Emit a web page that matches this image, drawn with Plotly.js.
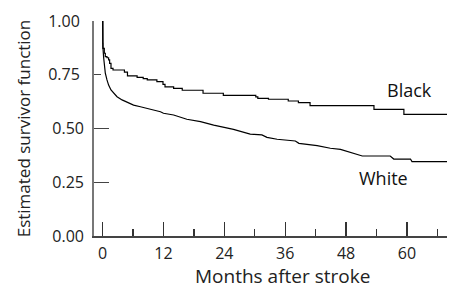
<!DOCTYPE html>
<html>
<head>
<meta charset="utf-8">
<script src="https://cdn.plot.ly/plotly-3.0.1.min.js"></script>
<style>html,body{margin:0;padding:0;background:#fff;}#chart{width:453px;height:288px;}</style>
</head>
<body>
<div id="chart"></div>
<script>
// Kaplan-Meier estimates
var blackMonths = [0, 0.05, 0.07, 0.33, 0.53, 0.86, 1.18, 1.38, 1.65, 2.05, 4.3, 4.9, 6.8, 8.0, 8.8, 10.7, 11.9, 12.3, 14.0, 15.7, 19.8, 23.8, 30.2, 30.6, 32.7, 36.6, 38.6, 40.9, 53.5, 59.4, 67.9];
var blackSurv   = [1.0, 0.896, 0.873, 0.85, 0.834, 0.829, 0.819, 0.803, 0.78, 0.772, 0.762, 0.745, 0.738, 0.732, 0.726, 0.718, 0.705, 0.694, 0.687, 0.678, 0.664, 0.654, 0.647, 0.640, 0.636, 0.628, 0.62, 0.606, 0.589, 0.566, 0.566];

var whiteMonths = [0, 0, 0.05, 0.2, 0.33, 0.53, 0.86, 1.18, 1.65, 2.17, 2.84, 3.83, 4.8, 6.1, 7.45, 9.4, 11.4, 12.0, 14.0, 16.6, 19.3, 21.9, 25.8, 29.1, 31.4, 32.4, 34.4, 38.0, 38.7, 42.3, 44.9, 46.9, 48.9, 51.2, 56.7, 57.4, 60.7, 61.0, 67.9];
var whiteSurv   = [1.0, 0.9, 0.88, 0.83, 0.795, 0.757, 0.726, 0.702, 0.679, 0.664, 0.648, 0.633, 0.622, 0.609, 0.601, 0.59, 0.578, 0.571, 0.563, 0.543, 0.532, 0.516, 0.496, 0.474, 0.470, 0.459, 0.450, 0.442, 0.431, 0.420, 0.408, 0.403, 0.387, 0.372, 0.372, 0.358, 0.358, 0.346, 0.346];

var seriesNames = ["Black", "White"];
var labelMonths = [60.6, 55.3];
var labelSurv = [0.677, 0.272];

var xTickVals = [0, 12, 24, 36, 48, 60];
var yTickLong = [0, 0.25, 0.5];
var yTickShort = [0.75, 1.0];
var yTickText = ["0.00", "0.25", "0.50", "0.75", "1.00"];
var xTitle = "Months after stroke";
var yTitle = "Estimated survivor function";

var FONT = "'Open Sans', Lato, sans-serif";

var traces = [
  {x: blackMonths, y: blackSurv, mode: "lines", line: {color: "#000", width: 1.2, shape: "hv"}, name: seriesNames[0], hoverinfo: "skip"},
  {x: whiteMonths, y: whiteSurv, mode: "lines", line: {color: "#000", width: 1.2, shape: "linear"}, name: seriesNames[1], hoverinfo: "skip"}
];

var annotations = seriesNames.map(function (n, i) {
  return {x: labelMonths[i], y: labelSurv[i], xref: "x", yref: "y", text: n, showarrow: false,
          font: {family: FONT, size: 18, color: "#111"}};
});
annotations.push({x: 0.533, y: -0.187, xref: "paper", yref: "paper", xanchor: "center", yanchor: "middle",
                  borderpad: 0, text: xTitle, showarrow: false, font: {family: FONT, size: 19, color: "#222"}});

var layout = {
  width: 453, height: 288,
  margin: {l: 94, r: 6, t: 21, b: 52},
  paper_bgcolor: "#fff", plot_bgcolor: "#fff",
  showlegend: false,
  font: {family: FONT, color: "#222", size: 16},
  xaxis: {
    range: [-1.7, 67.9],
    tickvals: xTickVals,
    ticktext: xTickVals.map(String),
    ticks: "inside", ticklen: 14, tickwidth: 1.2, tickcolor: "#333",
    minor: {dtick: 6, tick0: 0, ticks: "inside", ticklen: 7, tickwidth: 1.2, tickcolor: "#333"},
    showline: true, linecolor: "#444", linewidth: 1.5,
    showgrid: false, zeroline: false,
    ticklabelstandoff: 2,
    tickfont: {family: FONT, size: 16, color: "#222"}
  },
  yaxis: {
    range: [0, 1.0],
    tickvals: yTickShort,
    ticktext: yTickText.slice(3),
    ticks: "inside", ticklen: 7, tickwidth: 1.2, tickcolor: "#444",
    showline: true, linecolor: "#777", linewidth: 2,
    showgrid: false, zeroline: false,
    ticklabelstandoff: 9,
    tickfont: {family: FONT, size: 16, color: "#222"},
    title: {text: yTitle, font: {family: FONT, size: 17, color: "#222"}, standoff: 13}
  },
  yaxis2: {
    overlaying: "y", side: "left", anchor: "x",
    range: [0, 1.0],
    tickvals: yTickLong,
    ticktext: yTickText.slice(0, 3),
    ticks: "inside", ticklen: 15, tickwidth: 1.2, tickcolor: "#444",
    showline: false, showgrid: false, zeroline: false,
    ticklabelstandoff: 9,
    tickfont: {family: FONT, size: 16, color: "#222"}
  },
  annotations: annotations
};

traces.push({x: [0], y: [0], yaxis: "y2", mode: "markers", marker: {opacity: 0}, hoverinfo: "skip", showlegend: false});

Plotly.newPlot("chart", traces, layout, {staticPlot: true, displayModeBar: false});
</script>
</body>
</html>
